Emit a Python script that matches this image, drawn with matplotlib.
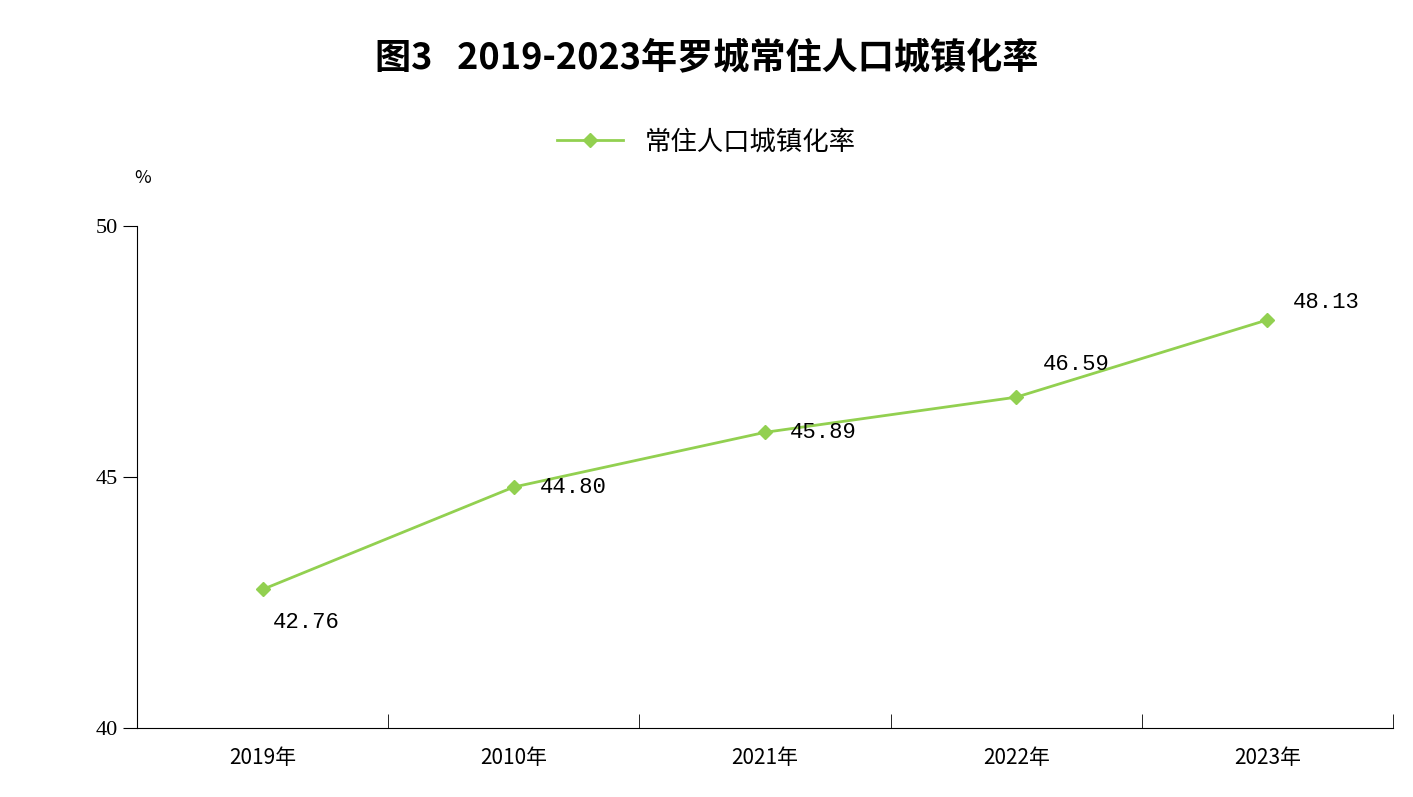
import matplotlib
matplotlib.use("Agg")
import matplotlib.pyplot as plt

plt.rcParams['font.family'] = ['Noto Sans CJK SC', 'DejaVu Sans']

categories = ["2019年", "2010年", "2021年", "2022年", "2023年"]
values = [42.76, 44.80, 45.89, 46.59, 48.13]
label_offsets_px = [(10, -33), (26, 0), (25, 0), (27, 33), (25, 17)]
color = "#92D050"

fig = plt.figure(figsize=(14.13, 7.97), dpi=100)
ax = fig.add_axes([137/1413, 1-728/797, (1393-137)/1413, (728-226)/797])
x = list(range(len(categories)))
ax.plot(x, values, color=color, lw=2, marker='D', ms=7, label="常住人口城镇化率")
for xi, v, (dx, dy) in zip(x, values, label_offsets_px):
    ax.annotate(f"{v:.2f}", (xi, v), xytext=(dx*0.72, dy*0.72), textcoords='offset points',
                ha='left', va='center', fontsize=16, family=['Liberation Mono', 'DejaVu Sans'])
ax.set_xlim(-0.5, len(categories)-0.5)
ax.set_ylim(40, 50)
ax.set_yticks([40, 45, 50])
ax.set_yticklabels(["40", "45", "50"], fontsize=16, family=['Liberation Serif'])
ax.set_xticks(x)
ax.set_xticklabels(categories, fontsize=15)
ax.set_xticks([i+0.5 for i in range(len(categories))], minor=True)
ax.tick_params(axis='x', which='major', length=0, pad=14)
ax.tick_params(axis='x', which='minor', direction='in', length=10)
ax.tick_params(axis='y', direction='out', length=10)
for s in ['top', 'right']:
    ax.spines[s].set_visible(False)
fig.text(143/1413, 1-178/797, "%", fontsize=13, ha='center', va='center')
fig.text(0.5, 1-58/797, "图3   2019-2023年罗城常住人口城镇化率", fontsize=26, fontweight='bold',
         ha='center', va='center')
fig.legend(loc='center', bbox_to_anchor=(0.5, 1-142/797), frameon=False, fontsize=19,
           handlelength=2.5)
fig.savefig("out.png", dpi=100)
